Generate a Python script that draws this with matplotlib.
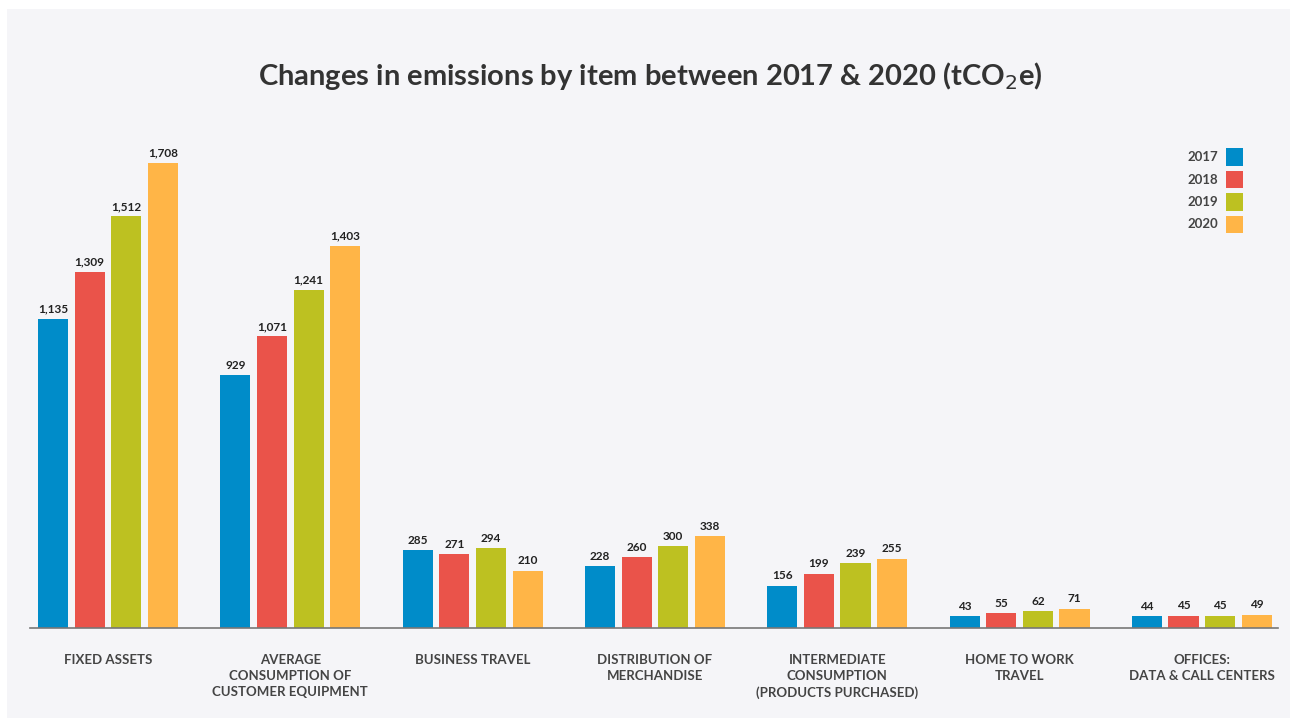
import matplotlib
matplotlib.use("Agg")
import matplotlib.pyplot as plt
from matplotlib.patches import Rectangle
import numpy as np

categories = ["FIXED ASSETS", "AVERAGE\nCONSUMPTION OF\nCUSTOMER EQUIPMENT", "BUSINESS TRAVEL",
              "DISTRIBUTION OF\nMERCHANDISE", "INTERMEDIATE\nCONSUMPTION\n(PRODUCTS PURCHASED)",
              "HOME TO WORK\nTRAVEL", "OFFICES:\nDATA & CALL CENTERS"]
years = ["2017", "2018", "2019", "2020"]
v2017 = [1135, 929, 285, 228, 156, 43, 44]
v2018 = [1309, 1071, 271, 260, 199, 55, 45]
v2019 = [1512, 1241, 294, 300, 239, 62, 45]
v2020 = [1708, 1403, 210, 338, 255, 71, 49]
colors = ["#008CC9", "#EA534A", "#BDC121", "#FFB547"]

plt.rcParams['font.family'] = ['Lato', 'DejaVu Sans']

W, H = 1290, 724
fig = plt.figure(figsize=(W / 100, H / 100), dpi=100)
fig.patch.set_facecolor("white")
# light grey panel
fig.add_artist(Rectangle((7 / W, 6 / H), (W - 7) / W, (H - 15) / H,
                         transform=fig.transFigure, facecolor="#F5F5F8", edgecolor="none", zorder=0))

ax = fig.add_axes([30 / W, 96 / H, 1248 / W, 488 / H])
ax.set_facecolor("none")

x = np.arange(len(categories))
step = 0.201
width = 0.165
series = [v2017, v2018, v2019, v2020]
for i, (vals, c) in enumerate(zip(series, colors)):
    pos = x + (i - 1.5) * step
    ax.bar(pos, vals, width=width, color=c, zorder=2)
    for p, v in zip(pos, vals):
        ax.text(p, v + 16, f"{v:,}", ha="center", va="bottom", fontsize=8.5,
                fontweight="bold", color="#222222")

ax.set_xlim(-0.428, 6.418)
ax.set_ylim(0, 1792)
for s in ["top", "right", "left"]:
    ax.spines[s].set_visible(False)
ax.spines["bottom"].set_color("#777777")
ax.spines["bottom"].set_linewidth(1.2)
ax.set_yticks([])
ax.set_xticks(x)
ax.set_xticklabels(categories, fontsize=9.5, fontweight="bold", color="#444444",
                   linespacing=1.4, va="top")
ax.tick_params(axis="x", length=0, pad=19)

fig.text(650 / W, 1 - 76 / H, "Changes in emissions by item between 2017 & 2020 (tCO$_2$e)",
         ha="center", va="center", fontsize=21, fontweight="bold", color="#333333")

# legend
for i, (yr, c) in enumerate(zip(years, colors)):
    yc = 157 + i * 22.5
    fig.text(1218 / W, 1 - yc / H, yr, ha="right", va="center", fontsize=9.5,
             fontweight="bold", color="#444444")
    fig.add_artist(Rectangle((1226 / W, 1 - (yc + 8.5) / H), 17 / W, 17 / H,
                             transform=fig.transFigure, facecolor=c, edgecolor="none"))

fig.savefig("out.png", dpi=100, facecolor=fig.get_facecolor())
